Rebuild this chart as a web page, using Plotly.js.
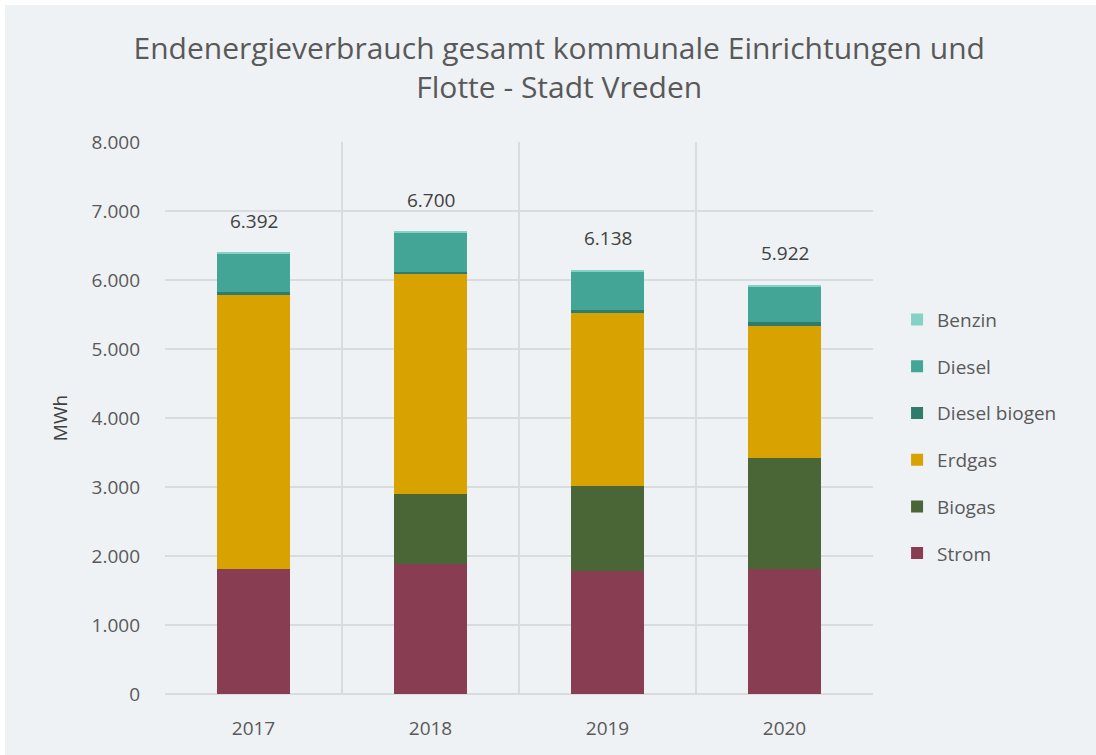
<!DOCTYPE html>
<html>
<head>
<meta charset="utf-8">
<script src="https://cdn.plot.ly/plotly-3.0.1.min.js"></script>
<style>
html,body{margin:0;padding:0;background:#ffffff;}
#chart{position:absolute;left:5px;top:5px;width:1091px;height:750px;}
</style>
</head>
<body>
<div id="chart"></div>
<script>
const years = ['2017', '2018', '2019', '2020'];
const strom = [1810, 1880, 1787, 1807];
const biogas = [0, 1023, 1227, 1613];
const erdgas = [3973, 3180, 2508, 1918];
const dieselBiogen = [43, 33, 38, 58];
const diesel = [558, 575, 570, 516];
const benzin = [8, 9, 8, 10];
const totals = [6392, 6700, 6138, 5922];

const seriesNames = ['Strom', 'Biogas', 'Erdgas', 'Diesel biogen', 'Diesel', 'Benzin'];
const seriesValues = [strom, biogas, erdgas, dieselBiogen, diesel, benzin];
const seriesColors = ['#893d52', '#4a6536', '#d8a200', '#2f7b6c', '#43a595', '#86d1c5'];

const traces = seriesNames.map((n, i) => ({
  type: 'bar',
  name: n,
  x: years,
  y: seriesValues[i],
  legendgroup: n,
  legendrank: seriesNames.length - i,
  marker: {color: seriesColors[i], line: {width: 0}},
  hoverinfo: 'x+y+name'
}));

const fmt = v => String(v).replace(/\B(?=(\d{3})+(?!\d))/g, '.');

const annotations = years.map((yr, i) => ({
  x: i, y: totals[i], xref: 'x', yref: 'y',
  text: fmt(totals[i]), showarrow: false,
  yanchor: 'bottom', yshift: 17,
  font: {family: 'Open Sans, sans-serif', size: 19, color: '#404040'}
}));

const layout = {
  width: 1091, height: 750,
  paper_bgcolor: '#eff2f5',
  plot_bgcolor: '#eff2f5',
  separators: ',.',
  barmode: 'stack',
  bargap: 0.593,
  margin: {l: 160, r: 223, t: 137, b: 61},
  font: {family: 'Open Sans, sans-serif', color: '#595959'},
  title: {
    text: 'Endenergieverbrauch gesamt kommunale Einrichtungen und<br>Flotte - Stadt Vreden',
    font: {family: 'Open Sans, sans-serif', size: 30, color: '#595959'},
    x: 0.508, xref: 'container', xanchor: 'center',
    y: 0.928, yref: 'container', yanchor: 'middle'
  },
  xaxis: {
    type: 'category',
    range: [-0.5, 3.5],
    showgrid: true, tickson: 'boundaries',
    gridcolor: '#d9dcdf', gridwidth: 1.5,
    ticks: '', showline: false, zeroline: false,
    ticklabelstandoff: 21,
    tickfont: {size: 19, color: '#595959'}
  },
  yaxis: {
    range: [0, 8000],
    dtick: 1000,
    tickformat: ',d',
    showgrid: true, gridcolor: '#d9dcdf', gridwidth: 1.5,
    zeroline: true, zerolinecolor: '#d9dcdf', zerolinewidth: 1.5,
    ticks: '', showline: false,
    ticklabelstandoff: 24,
    tickfont: {size: 19, color: '#595959'},
    title: {text: 'MWh', standoff: 18, font: {size: 19, color: '#404040'}}
  },
  legend: {
    x: 1.034, xanchor: 'left',
    y: 0.466, yanchor: 'middle',
    traceorder: 'grouped',
    tracegroupgap: 19,
    bgcolor: 'rgba(0,0,0,0)',
    font: {size: 19, color: '#595959'},
    itemwidth: 30
  },
  annotations: annotations,
  showlegend: true
};

Plotly.newPlot('chart', traces, layout, {displayModeBar: false});
</script>
</body>
</html>
